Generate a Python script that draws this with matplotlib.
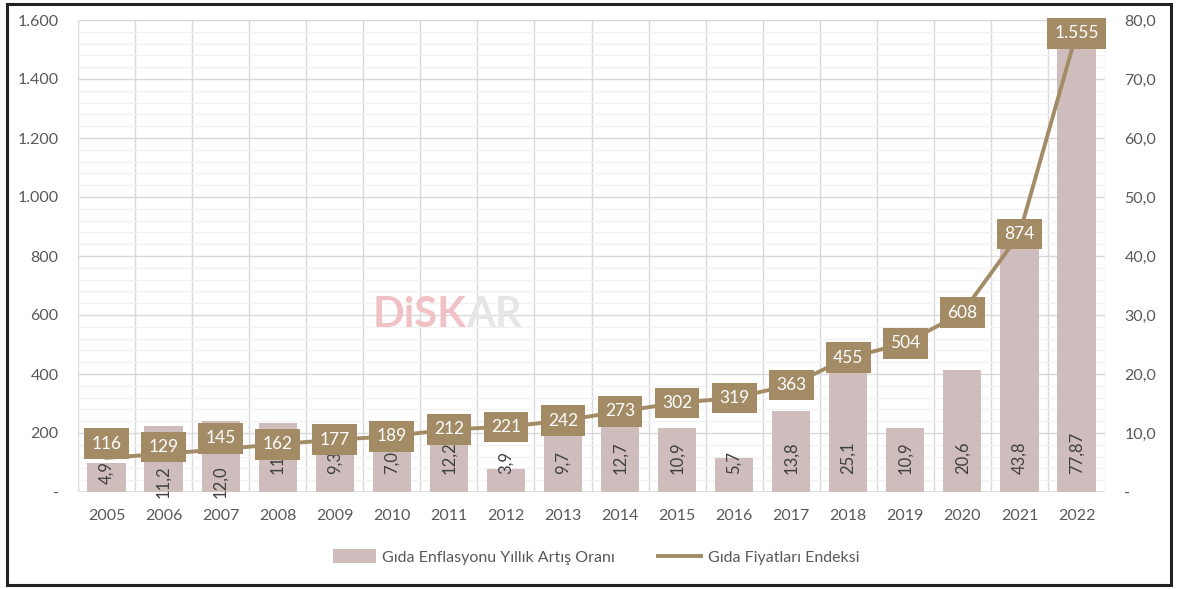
import matplotlib
matplotlib.use("Agg")
import matplotlib.pyplot as plt
from matplotlib.ticker import FuncFormatter, MultipleLocator
from matplotlib.lines import Line2D
from matplotlib.patches import Patch, Rectangle

plt.rcParams['font.family'] = ['Lato', 'DejaVu Sans']

years = ['2005', '2006', '2007', '2008', '2009', '2010', '2011', '2012', '2013',
         '2014', '2015', '2016', '2017', '2018', '2019', '2020', '2021', '2022']
inflation = [4.9, 11.2, 12.0, 11.7, 9.3, 7.0, 12.2, 3.9, 9.7,
             12.7, 10.9, 5.7, 13.8, 25.1, 10.9, 20.6, 43.8, 77.87]
inflation_labels = ['4,9', '11,2', '12,0', '11,7', '9,3', '7,0', '12,2', '3,9', '9,7',
                    '12,7', '10,9', '5,7', '13,8', '25,1', '10,9', '20,6', '43,8', '77,87']
index_vals = [116, 129, 145, 162, 177, 189, 212, 221, 242,
              273, 302, 319, 363, 455, 504, 608, 874, 1555]
index_labels = ['116', '129', '145', '162', '177', '189', '212', '221', '242',
                '273', '302', '319', '363', '455', '504', '608', '874', '1.555']
legend_labels = ['Gıda Enflasyonu Yıllık Artış Oranı', 'Gıda Fiyatları Endeksi']

# label placement tweaks (pixels), as in the original layout
box_shift_px = {0: 14, 1: 7, 2: 11}
bar_label_shift_px = {0: -10, 1: -24, 2: -24}

BAR = '#CFBCBC'
BROWN = '#A28B65'
TXT = '#595959'

fig = plt.figure(figsize=(11.78, 5.89), dpi=100)
fig.patches.append(Rectangle((0.006, 0.006), 0.988, 0.988, transform=fig.transFigure,
                             fill=False, edgecolor='#222222', linewidth=2.2))

W, H = 1178, 589
left, right, top, bottom = 78, 1105, 20, 492
ax2 = fig.add_axes([left / W, 1 - bottom / H, (right - left) / W, (bottom - top) / H])
ax1 = ax2.twinx()

x = list(range(len(years)))
PT = 0.72  # points per pixel at dpi 100

# right axis: bars
ax2.set_ylim(0, 80)
ax2.set_xlim(-0.5, len(years) - 0.5)
ax2.yaxis.set_major_locator(MultipleLocator(10))
ax2.yaxis.set_minor_locator(MultipleLocator(2))
ax2.set_axisbelow(True)
ax2.grid(which='major', axis='y', color='#D9D9D9', linewidth=1.0)
ax2.grid(which='minor', axis='y', color='#F2F2F2', linewidth=1.0)
for b in [i - 0.5 for i in range(len(years) + 1)]:
    ax2.axvline(b, color='#D9D9D9', linewidth=1.0, zorder=0)
ax2.bar(x, inflation, width=0.67, color=BAR, zorder=2)
for i, (xi, lab) in enumerate(zip(x, inflation_labels)):
    dy = bar_label_shift_px.get(i, 0) * PT
    ax2.annotate(lab, (xi, 3.1), xytext=(0, dy), textcoords='offset points',
                 rotation=90, ha='center', va='bottom', fontsize=12,
                 color='#404040', zorder=3, annotation_clip=False)

# watermark
ax2.text(0.378, 0.375, 'DiSK', transform=ax2.transAxes, fontsize=30, fontweight='bold',
         color='#F0C2C5', ha='right', va='center', zorder=1)
ax2.text(0.378, 0.375, 'AR', transform=ax2.transAxes, fontsize=30, fontweight='bold',
         color='#E6E6E6', ha='left', va='center', zorder=1)

ax2.yaxis.tick_right()
ax2.yaxis.set_label_position('right')

# left axis: line
ax1.yaxis.tick_left()
ax1.set_zorder(ax2.get_zorder() + 1)
ax1.patch.set_visible(False)
ax1.set_ylim(0, 1600)
ax1.yaxis.set_major_locator(MultipleLocator(200))
ax1.plot(x, index_vals, color=BROWN, linewidth=2.8, zorder=3)
for i, (xi, v, lab) in enumerate(zip(x, index_vals, index_labels)):
    dy = box_shift_px.get(i, 0) * PT
    ax1.annotate(lab, (xi, v), xytext=(0, dy), textcoords='offset points',
                 ha='center', va='center', fontsize=12.5, color='white', zorder=4,
                 bbox=dict(boxstyle='square,pad=0.42', facecolor=BROWN, edgecolor='none'))

def lfmt(v, p):
    if v == 0:
        return '-'
    return f'{int(v):,}'.replace(',', '.')

def rfmt(v, p):
    if v == 0:
        return '-'
    return f'{v:.1f}'.replace('.', ',')

ax1.yaxis.set_major_formatter(FuncFormatter(lfmt))
ax2.yaxis.set_major_formatter(FuncFormatter(rfmt))
ax2.set_xticks(x)
ax2.set_xticklabels(years)

for a in (ax1, ax2):
    for s in a.spines.values():
        s.set_visible(False)
    a.tick_params(axis='both', which='both', length=0, labelsize=11.5, colors=TXT)
ax2.tick_params(axis='x', pad=12)
ax1.tick_params(axis='y', pad=14)
ax2.tick_params(axis='y', pad=14)
ax2.axhline(0, color='#D9D9D9', linewidth=1.2, zorder=1)

handles = [Patch(facecolor=BAR, edgecolor='none'),
           Line2D([0], [0], color=BROWN, linewidth=2.8)]
fig.legend(handles, legend_labels, loc='center', bbox_to_anchor=(0.506, 1 - 557 / H),
           ncol=2, frameon=False, fontsize=11.5, labelcolor=TXT, handlelength=2.7,
           handleheight=0.9, handletextpad=0.4, columnspacing=2.7)

fig.savefig('out.png', dpi=100)
